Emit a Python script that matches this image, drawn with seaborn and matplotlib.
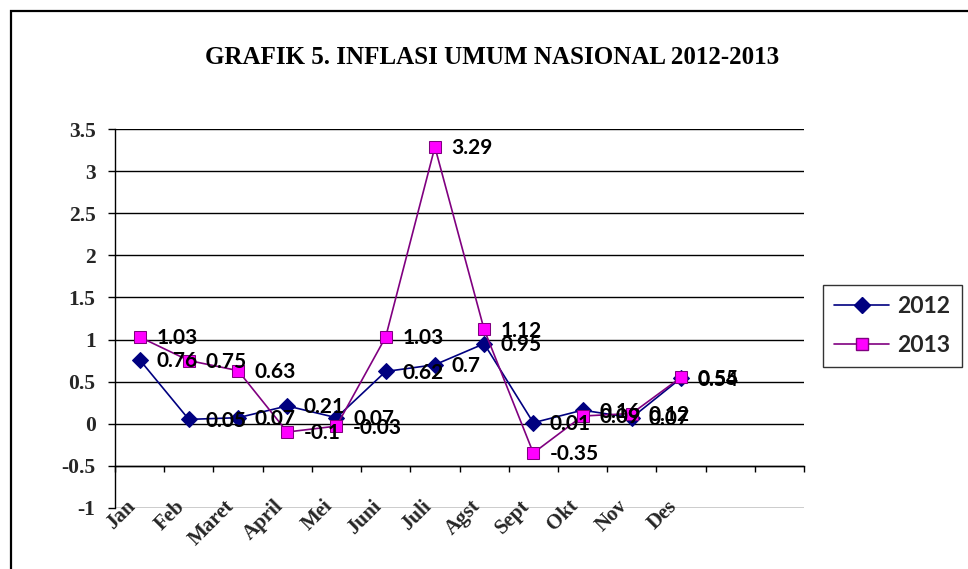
import numpy as np
import pandas as pd
import matplotlib
matplotlib.use("Agg")
import matplotlib.pyplot as plt
import matplotlib.transforms as mtransforms
from matplotlib.lines import Line2D
from matplotlib.patches import Rectangle
import seaborn as sns

# data
bulan = ['Jan', 'Feb', 'Maret', 'April', 'Mei', 'Juni', 'Juli', 'Agst', 'Sept', 'Okt', 'Nov', 'Des']
inflasi_2012 = [0.76, 0.05, 0.07, 0.21, 0.07, 0.62, 0.70, 0.95, 0.01, 0.16, 0.07, 0.54]
inflasi_2013 = [1.03, 0.75, 0.63, -0.10, -0.03, 1.03, 3.29, 1.12, -0.35, 0.09, 0.12, 0.55]
label_2012 = ['0.76', '0.05', '0.07', '0.21', '0.07', '0.62', '0.7', '0.95', '0.01', '0.16', '0.07', '0.54']
label_2013 = ['1.03', '0.75', '0.63', '-0.1', '-0.03', '1.03', '3.29', '1.12', '-0.35', '0.09', '0.12', '0.55']
y_ticks = [-1, -0.5, 0, 0.5, 1, 1.5, 2, 2.5, 3, 3.5]
y_ticklabels = ['-1', '-0.5', '0', '0.5', '1', '1.5', '2', '2.5', '3', '3.5']

df = pd.DataFrame({'pos': np.arange(len(bulan)), 'bulan': bulan,
                   '2012': inflasi_2012, '2013': inflasi_2013})

sns.set_style('white')
serif = ['Liberation Serif', 'DejaVu Serif']
sans = ['Lato', 'DejaVu Sans']

fig = plt.figure(figsize=(9.68, 5.69), dpi=100)
ax = fig.add_axes([115 / 968, 1 - 508 / 569, (804 - 115) / 968, (508 - 129) / 569])

navy = '#000080'
ungu = '#800080'
magenta = '#FF00FF'

sns.lineplot(data=df, x='pos', y='2012', ax=ax, color=navy, lw=1.2,
             marker='D', markersize=8, markerfacecolor=navy, markeredgecolor=navy)
sns.lineplot(data=df, x='pos', y='2013', ax=ax, color=ungu, lw=1.2,
             marker='s', markersize=8, markerfacecolor=magenta, markeredgecolor=ungu)

# label data
for i in range(len(bulan)):
    ax.annotate(label_2012[i], (i, inflasi_2012[i]), xytext=(12, -1), textcoords='offset points',
                ha='left', va='center', fontsize=15, fontweight='bold', family=sans, color='black')
    ax.annotate(label_2013[i], (i, inflasi_2013[i]), xytext=(12, -1), textcoords='offset points',
                ha='left', va='center', fontsize=15, fontweight='bold', family=sans, color='black')

ax.set_xlim(-0.5, 13.5)
ax.set_ylim(-1.004, 3.504)
ax.set_xlabel('')
ax.set_ylabel('')

# sumbu y
ax.set_yticks(y_ticks)
ax.set_yticklabels(y_ticklabels, fontsize=15.5, fontweight='bold', family=serif)
ax.tick_params(axis='y', direction='out', length=5, width=1, pad=9, left=True, color='black')
ax.yaxis.grid(True, color='black', lw=1.0)
ax.xaxis.grid(False)

# sumbu x di -0.5
for s in ['top', 'right']:
    ax.spines[s].set_visible(False)
ax.spines['bottom'].set_position(('data', -0.5))
ax.spines['left'].set_color('black')
ax.spines['bottom'].set_color('black')
ax.spines['left'].set_linewidth(1.0)
ax.spines['bottom'].set_linewidth(1.0)
ax.set_xticks(np.arange(-0.5, 14, 1), minor=True)
ax.set_xticks(np.arange(len(bulan)))
ax.set_xticklabels(bulan, fontsize=15, fontweight='bold', family=serif,
                   rotation=45, ha='right', va='top', rotation_mode='anchor')
ax.tick_params(axis='x', which='major', length=0, pad=22)
ax.tick_params(axis='x', which='minor', direction='out', length=4.5, width=1, bottom=True, color='black')
geser = mtransforms.ScaledTranslation(-14 / 100, 0, fig.dpi_scale_trans)
for lbl in ax.get_xticklabels():
    lbl.set_transform(lbl.get_transform() + geser)

# legenda
handles = [Line2D([], [], color=navy, lw=1.2, marker='D', markersize=8,
                  markerfacecolor=navy, markeredgecolor=navy),
           Line2D([], [], color=ungu, lw=1.2, marker='s', markersize=8,
                  markerfacecolor=magenta, markeredgecolor=ungu)]
leg = ax.legend(handles, ['2012', '2013'], loc='upper left', bbox_to_anchor=(823 / 968, 1 - 285 / 569),
                bbox_transform=fig.transFigure, borderaxespad=0, frameon=True, fancybox=False,
                edgecolor='black', handlelength=2.4, handletextpad=0.35, labelspacing=0.75,
                borderpad=0.5, prop={'family': sans, 'weight': 'bold', 'size': 16.5})
leg.get_frame().set_linewidth(1.0)

# judul
fig.text(492 / 968, 1 - 57 / 569, 'GRAFIK 5. INFLASI UMUM NASIONAL 2012-2013', ha='center', va='center',
         fontsize=18, fontweight='bold', family=serif, color='black')

# bingkai
fig.patches.append(Rectangle((11 / 968, -0.2), 1.2, 1.2 - 11 / 569, transform=fig.transFigure,
                             fill=False, edgecolor='black', lw=1.6, clip_on=False))

fig.savefig('out.png', dpi=100)
